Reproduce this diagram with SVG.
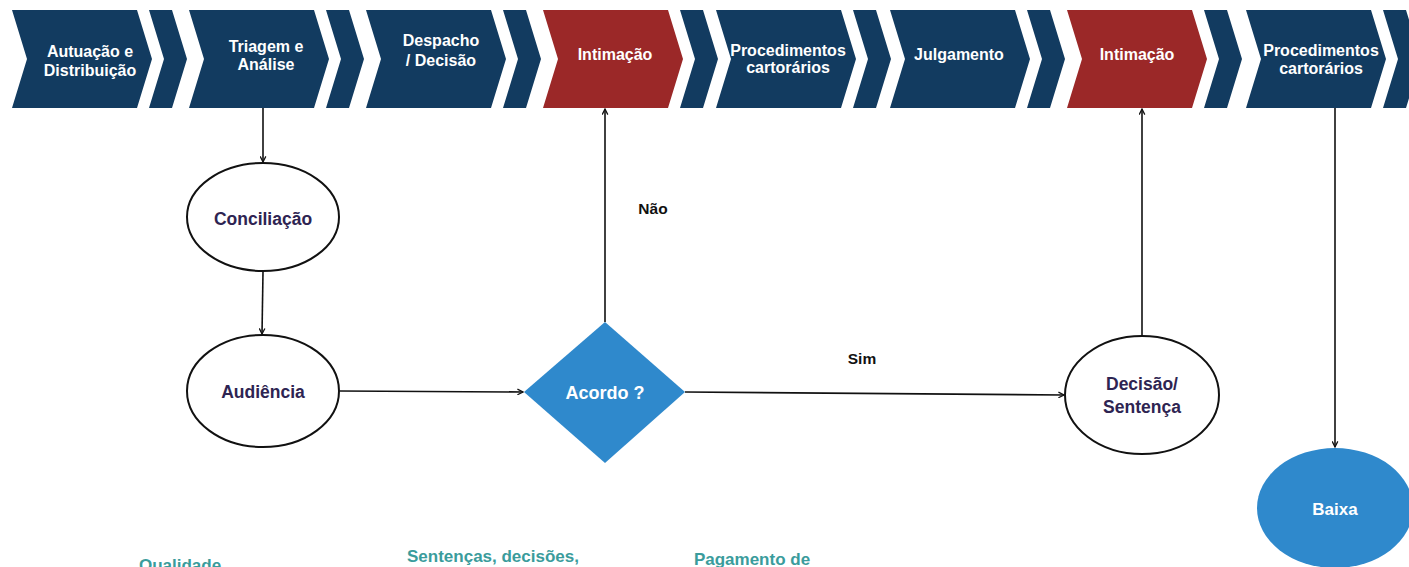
<svg xmlns="http://www.w3.org/2000/svg" width="1409" height="567" viewBox="0 0 1409 567">
<defs>
<style>
.nv{fill:#123b60}
.rd{fill:#9b2828}
.ct{font-family:"Liberation Sans",Arial,sans-serif;font-weight:bold;font-size:16px;fill:#ffffff;text-anchor:middle}
.nt{font-family:"Liberation Sans",Arial,sans-serif;font-weight:bold;font-size:17.5px;fill:#2e2452;text-anchor:middle}
.wt{font-family:"Liberation Sans",Arial,sans-serif;font-weight:bold;font-size:18px;fill:#ffffff;text-anchor:middle}
.lb{font-family:"Liberation Sans",Arial,sans-serif;font-weight:bold;font-size:15.5px;fill:#111111;text-anchor:middle}
.bt{font-family:"Liberation Sans",Arial,sans-serif;font-weight:bold;font-size:17px;fill:#3a9c9c;text-anchor:middle}
.el{fill:#ffffff;stroke:#111111;stroke-width:2}
.cn{fill:none;stroke:#111111;stroke-width:1.6;marker-end:url(#ah)}
</style>
<marker id="ah" viewBox="0 0 10 10" refX="9" refY="5" markerWidth="7" markerHeight="7" orient="auto" markerUnits="userSpaceOnUse">
<path d="M1,1 L9,5 L1,9" fill="none" stroke="#111111" stroke-width="1.8"/>
</marker>
<path id="mainc" d="M0,10 L125,10 L140,59 L125,108 L0,108 L15,59 Z"/>
<path id="smallc" d="M137,10 L160,10 L175,59 L160,108 L137,108 L152,59 Z"/>
</defs>

<g id="chevron-1"><use href="#mainc" x="12" class="nv"/><use href="#smallc" x="12" class="nv"/><text class="ct" x="90" y="57">Autuação e</text><text class="ct" x="90" y="76">Distribuição</text></g>
<g id="chevron-2"><use href="#mainc" x="189" class="nv"/><use href="#smallc" x="189" class="nv"/><text class="ct" x="266" y="52">Triagem e</text><text class="ct" x="266" y="70">Análise</text></g>
<g id="chevron-3"><use href="#mainc" x="366" class="nv"/><use href="#smallc" x="366" class="nv"/><text class="ct" x="441" y="46">Despacho</text><text class="ct" x="441" y="66">/ Decisão</text></g>
<g id="chevron-4"><use href="#mainc" x="543" class="rd"/><use href="#smallc" x="543" class="nv"/><text class="ct" x="615" y="60">Intimação</text></g>
<g id="chevron-5"><use href="#mainc" x="716" class="nv"/><use href="#smallc" x="716" class="nv"/><text class="ct" x="788" y="56">Procedimentos</text><text class="ct" x="788" y="73">cartorários</text></g>
<g id="chevron-6"><use href="#mainc" x="890" class="nv"/><use href="#smallc" x="890" class="nv"/><text class="ct" x="959" y="60">Julgamento</text></g>
<g id="chevron-7"><use href="#mainc" x="1067" class="rd"/><use href="#smallc" x="1067" class="nv"/><text class="ct" x="1137" y="60">Intimação</text></g>
<g id="chevron-8"><use href="#mainc" x="1246" class="nv"/><use href="#smallc" x="1246" class="nv"/><text class="ct" x="1321" y="56">Procedimentos</text><text class="ct" x="1321" y="74">cartorários</text></g>

<g id="conciliacao"><ellipse class="el" cx="263" cy="217" rx="76" ry="54"/><text class="nt" x="263" y="225">Conciliação</text></g>
<g id="audiencia"><ellipse class="el" cx="263" cy="391" rx="76" ry="56"/><text class="nt" x="263" y="398">Audiência</text></g>
<g id="acordo"><path d="M605,322 L685,392 L605,463 L524,392 Z" fill="#2f89cc"/><text class="wt" x="605" y="399">Acordo ?</text></g>
<g id="decisao"><ellipse class="el" cx="1142" cy="395" rx="77" ry="59"/><text class="nt" x="1142" y="390">Decisão/</text><text class="nt" x="1142" y="413">Sentença</text></g>
<g id="baixa"><ellipse cx="1335" cy="508" rx="78" ry="60" fill="#2f89cc"/><text class="wt" x="1335" y="515" style="font-size:17px">Baixa</text></g>

<g id="connectors">
<path class="cn" d="M263,108 L263,162"/>
<path class="cn" d="M263,272 L262,334"/>
<path class="cn" d="M340,391 L523,392"/>
<path class="cn" d="M605,322 L605,109"/>
<path class="cn" d="M685,392 L1064,395"/>
<path class="cn" d="M1142,336 L1142,109"/>
<path class="cn" d="M1335,108 L1335,447"/>
<text class="lb" x="653" y="214">Não</text>
<text class="lb" x="862" y="364">Sim</text>
</g>

<g id="bottom-texts">
<text class="bt" x="180" y="571">Qualidade</text>
<text class="bt" x="493" y="562">Sentenças, decisões,</text>
<text class="bt" x="752" y="565">Pagamento de</text>
</g>
</svg>
